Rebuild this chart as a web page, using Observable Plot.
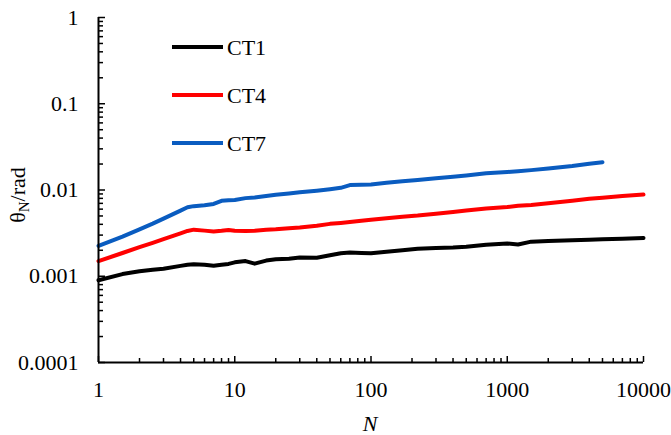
<!DOCTYPE html>
<html><head><meta charset="utf-8">
<script src="https://cdn.jsdelivr.net/npm/d3@7"></script>
<script src="https://cdn.jsdelivr.net/npm/@observablehq/plot@0.6"></script>
<style>body{margin:0;background:#fff} svg{display:block}</style>
</head><body><div id="chart"></div>
<script>
const cycles = [1, 1.5, 2, 2.5, 3, 4, 4.5, 5, 6, 7, 8, 9, 10, 12, 14, 17, 20, 25, 30, 40, 50, 60, 70, 85, 100, 130, 170, 220, 300, 400, 500, 700, 1000, 1200, 1500, 2000, 3000, 4000, 5000, 7000, 10000];
const ct1 = [0.00090, 0.00106, 0.00114, 0.00119, 0.00122, 0.00132, 0.00136, 0.00138, 0.00136, 0.00132, 0.00136, 0.00139, 0.00145, 0.00150, 0.00140, 0.00152, 0.00157, 0.00160, 0.00165, 0.00164, 0.00175, 0.00185, 0.00188, 0.00186, 0.00185, 0.00192, 0.00200, 0.00208, 0.00212, 0.00215, 0.00220, 0.00232, 0.00240, 0.00233, 0.00252, 0.00257, 0.00262, 0.00265, 0.00268, 0.00272, 0.00278];
const ct4 = [0.00150, 0.00186, 0.00217, 0.00244, 0.00270, 0.00315, 0.00335, 0.00347, 0.00338, 0.00330, 0.00336, 0.00343, 0.00336, 0.00335, 0.00338, 0.00345, 0.00350, 0.00360, 0.00368, 0.00385, 0.00405, 0.00415, 0.00425, 0.00440, 0.00452, 0.00470, 0.00490, 0.00505, 0.00530, 0.00555, 0.00578, 0.00612, 0.00635, 0.00655, 0.00670, 0.00700, 0.00750, 0.00790, 0.00815, 0.00850, 0.00885];
const ct7 = [0.00225, 0.00288, 0.00350, 0.00407, 0.00466, 0.00577, 0.00630, 0.00650, 0.00665, 0.00690, 0.00750, 0.00760, 0.00765, 0.00805, 0.00820, 0.00850, 0.00880, 0.00910, 0.00940, 0.00980, 0.01020, 0.01060, 0.01140, 0.01150, 0.01160, 0.01210, 0.01260, 0.01310, 0.01370, 0.01420, 0.01470, 0.01560, 0.01620, 0.01650, 0.01700, 0.01780, 0.01900, 0.02020, 0.02100, null, null];
const seriesNames = ["CT1", "CT4", "CT7"];
const seriesColors = ["#000000", "#ff0000", "#0a5cc0"];
const yTickValues = [0.0001, 0.001, 0.01, 0.1, 1];
const yTickLabels = ["0.0001", "0.001", "0.01", "0.1", "1"];
const xTickValues = [1, 10, 100, 1000, 10000];
const xTickLabels = ["1", "10", "100", "1000", "10000"];

const W = 671, H = 435, mL = 98, mR = 28, mT = 17, mB = 73;
const pw = W - mL - mR, ph = H - mT - mB;
const font = "'Liberation Serif', 'Times New Roman', 'DejaVu Serif', serif";
const fs = 22;

const allSeries = [ct1, ct4, ct7];
const rows = [];
allSeries.forEach((vals, s) => vals.forEach((v, i) => { if (v != null) rows.push({N: cycles[i], v, s: seriesNames[s]}); }));

const minorY = [];
for (let i = 0; i < yTickValues.length - 1; i++) for (let k = 2; k <= 9; k++) minorY.push(yTickValues[i] * k);
const minorX = [];
for (let i = 0; i < xTickValues.length - 1; i++) for (let k = 2; k <= 9; k++) minorX.push(xTickValues[i] * k);

const chart = Plot.plot({
  width: W, height: H,
  marginLeft: mL, marginRight: mR, marginTop: mT, marginBottom: mB,
  style: {fontFamily: font, fontSize: fs + "px", color: "#000", background: "#fff", overflow: "visible"},
  x: {type: "log", domain: [1, 10000]},
  y: {type: "log", domain: [0.0001, 1]},
  color: {domain: seriesNames, range: seriesColors},
  marks: [
    Plot.line(rows, {x: "N", y: "v", z: "s", stroke: "s", strokeWidth: 4, curve: "linear"}),
    Plot.tickY(minorY, {y: d => d, insetRight: pw - 5, stroke: "#000", strokeWidth: 1.5}),
    Plot.tickY(yTickValues, {y: d => d, insetRight: pw - 7, stroke: "#000", strokeWidth: 1.5}),
    Plot.tickX(minorX, {x: d => d, insetTop: ph - 4, stroke: "#000", strokeWidth: 1.5}),
    Plot.tickX(xTickValues, {x: d => d, insetTop: ph - 6, stroke: "#000", strokeWidth: 1.5}),
    Plot.ruleX([1], {stroke: "#000", strokeWidth: 2}),
    Plot.ruleY([0.0001], {stroke: "#000", strokeWidth: 2}),
    Plot.axisY({ticks: yTickValues, tickSize: 0, tickPadding: 20, fontSize: fs, label: null,
      tickFormat: d => yTickLabels[yTickValues.indexOf(d)]}),
    Plot.axisX({ticks: xTickValues, tickSize: 0, tickPadding: 19, fontSize: fs, label: null,
      tickFormat: d => xTickLabels[xTickValues.indexOf(d)]})
  ]
});
document.getElementById("chart").appendChild(chart);

const svg = d3.select(chart);
svg.selectAll("text").style("font-family", font);
// y-axis title
const yl = svg.append("text")
  .attr("transform", "translate(25,195) rotate(-90)")
  .attr("text-anchor", "middle")
  .style("font-family", font).attr("font-size", fs).attr("fill", "#000");
yl.append("tspan").text("θ");
yl.append("tspan").attr("font-size", 15).attr("dy", 4).text("N");
yl.append("tspan").attr("dy", -4).text("/rad");
// x-axis title
svg.append("text").attr("x", 370).attr("y", 431)
  .attr("text-anchor", "middle").style("font-family", font).attr("font-size", fs)
  .attr("font-style", "italic").attr("fill", "#000").text("N");
// legend
seriesNames.forEach((name, i) => {
  const y = 47 + i * 48;
  svg.append("line").attr("x1", 172).attr("x2", 223).attr("y1", y).attr("y2", y)
    .attr("stroke", seriesColors[i]).attr("stroke-width", 4);
  svg.append("text").attr("x", 227).attr("y", y + 7.5).attr("text-anchor", "start")
    .style("font-family", font).attr("font-size", fs).attr("fill", "#000").text(name);
});
</script></body></html>
